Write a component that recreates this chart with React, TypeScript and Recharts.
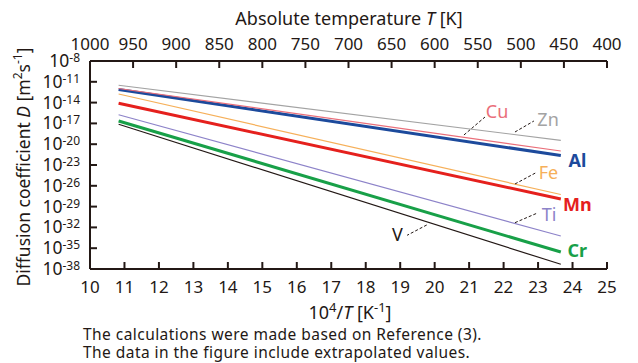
import React from "react";
import {
  LineChart,
  Line,
  XAxis,
  YAxis,
  ReferenceLine,
  ReferenceDot,
} from "recharts";

// 10^4/T at the two ends of every line
const invT = [10.83, 23.66];

// log10 of D [m2/s] at each end
const zn = [-11.5, -19.44];
const cu = [-11.97, -20.98];
const al = [-12.11, -21.63];
const fe = [-12.76, -27.26];
const mn = [-14.1, -27.9];
const ti = [-15.75, -33.24];
const cr = [-16.65, -35.55];
const v = [-17.13, -37.32];

const xTicks = [10, 11, 12, 13, 14, 15, 16, 17, 18, 19, 20, 21, 22, 23, 24, 25];
const yTicks = [-8, -11, -14, -17, -20, -23, -26, -29, -32, -35, -38];
const tempTicks = [1000, 950, 900, 850, 800, 750, 700, 650, 600, 550, 500, 450, 400];

// element labels (x = 10^4/T, y = log10 D)
const labelNames = ["Cu", "Zn", "Al", "Fe", "Mn", "Ti", "Cr", "V"];
const labelX = [21.81, 23.29, 24.14, 23.3, 24.14, 23.32, 24.14, 18.92];
const labelY = [-15.28, -16.51, -22.42, -24.15, -28.73, -30.17, -35.4, -33.1];

// dashed leaders from label to line
const leaderX1 = [20.85, 22.33, 22.33, 22.33, 19.77];
const leaderY1 = [-18.67, -18.24, -25.74, -31.32, -31.65];
const leaderX2 = [21.46, 22.88, 22.94, 22.96, 19.2];
const leaderY2 = [-16.08, -16.65, -24.11, -29.97, -33.14];

const data = invT.map((x, i) => ({
  x,
  T: 1e4 / x,
  Zn: zn[i],
  Cu: cu[i],
  Al: al[i],
  Fe: fe[i],
  Mn: mn[i],
  Ti: ti[i],
  Cr: cr[i],
  V: v[i],
}));

const INK = "#231815";
const FONT = "'Noto Sans', 'DejaVu Sans', sans-serif";

const series = [
  { key: "Zn", color: "#a3a3a3", width: 1.2, bold: false },
  { key: "Fe", color: "#f6b05a", width: 1.2, bold: false },
  { key: "Ti", color: "#8d83c9", width: 1.2, bold: false },
  { key: "V", color: INK, width: 1.2, bold: false },
  { key: "Al", color: "#1c4a9c", width: 3, bold: true },
  { key: "Cu", color: "#ea6f7a", width: 1.2, bold: false },
  { key: "Mn", color: "#e5201d", width: 3, bold: true },
  { key: "Cr", color: "#18a048", width: 3, bold: true },
];

const colorOf = (name: string) => series.find((s) => s.key === name)!;

const BottomTick = ({ x, y, payload }: any) => (
  <text x={x} y={y + 15} textAnchor="middle" fill={INK} fontSize={17} fontFamily={FONT}>
    {payload.value}
  </text>
);

const TopTick = ({ x, y, payload }: any) => (
  <text x={x} y={y} textAnchor="middle" fill={INK} fontSize={17} fontFamily={FONT}>
    {payload.value}
  </text>
);

const LeftTick = ({ x, y, payload }: any) => (
  <text x={x} y={y + 6} textAnchor="end" fill={INK} fontSize={17.5} fontFamily={FONT}>
    10
    <tspan fontSize={12} dy={-5}>
      {payload.value}
    </tspan>
  </text>
);

const text: React.CSSProperties = {
  position: "absolute",
  color: INK,
  fontFamily: FONT,
  whiteSpace: "nowrap",
  lineHeight: 1,
};

export default function App() {
  return (
    <div
      style={{
        position: "absolute",
        left: 0,
        top: 0,
        width: 638,
        height: 363,
        background: "#fff",
      }}
    >
      <LineChart
        width={638}
        height={363}
        data={data}
        margin={{ top: 0, right: 31, bottom: 0, left: 0 }}
      >
        <XAxis
          xAxisId="bottom"
          dataKey="x"
          type="number"
          domain={[10, 25]}
          ticks={xTicks}
          height={94}
          stroke={INK}
          strokeWidth={2}
          tickSize={-7}
          tickMargin={16}
          tick={<BottomTick />}
          interval={0}
        />
        <XAxis
          xAxisId="top"
          dataKey="T"
          orientation="top"
          type="number"
          domain={[400, 1000]}
          reversed
          allowDataOverflow
          ticks={tempTicks}
          height={61}
          stroke={INK}
          strokeWidth={2}
          tickSize={-7}
          tickMargin={18}
          tick={<TopTick />}
          interval={0}
        />
        <YAxis
          yAxisId="left"
          type="number"
          domain={[-38, -8]}
          ticks={yTicks}
          width={90}
          stroke={INK}
          strokeWidth={2}
          tickSize={-7}
          tickMargin={17}
          tick={<LeftTick />}
          interval={0}
        />
        <YAxis
          yAxisId="right"
          orientation="right"
          type="number"
          domain={[-38, -8]}
          allowDataOverflow
          width={0}
          stroke={INK}
          strokeWidth={2}
          tick={false}
          tickLine={false}
        />
        {/* invisible series so the top and right axes get drawn */}
        <Line
          xAxisId="top"
          yAxisId="right"
          dataKey="Zn"
          stroke="none"
          dot={false}
          activeDot={false}
          legendType="none"
          isAnimationActive={false}
        />
        {series.map((s) => (
          <Line
            key={s.key}
            xAxisId="bottom"
            yAxisId="left"
            type="linear"
            dataKey={s.key}
            stroke={s.color}
            strokeWidth={s.width}
            dot={false}
            activeDot={false}
            isAnimationActive={false}
          />
        ))}
        {leaderX1.map((x1, i) => (
          <ReferenceLine
            key={"lead" + i}
            xAxisId="bottom"
            yAxisId="left"
            segment={[
              { x: x1, y: leaderY1[i] },
              { x: leaderX2[i], y: leaderY2[i] },
            ]}
            stroke={INK}
            strokeWidth={1}
            strokeDasharray="3 2"
          />
        ))}
        {labelNames.map((name, i) => {
          const s = colorOf(name);
          return (
            <ReferenceDot
              key={name}
              xAxisId="bottom"
              yAxisId="left"
              x={labelX[i]}
              y={labelY[i]}
              r={1}
              fill="none"
              stroke="none"
              label={{
                value: name,
                position: "center",
                fill: s.color,
                fontSize: 18,
                fontWeight: s.bold ? 700 : 400,
                fontFamily: FONT,
              }}
            />
          );
        })}
      </LineChart>

      <svg
        width={638}
        height={363}
        style={{ position: "absolute", left: 0, top: 0, pointerEvents: "none" }}
      >
        <text
          x={23}
          y={167}
          transform="rotate(-90 23 167)"
          textAnchor="middle"
          dominantBaseline="central"
          fill={INK}
          fontSize={17.5}
          fontFamily={FONT}
        >
          Diffusion coefficient <tspan fontStyle="italic">D</tspan> [m
          <tspan fontSize={12} dy={-6}>2</tspan>
          <tspan dy={6}>s</tspan>
          <tspan fontSize={12} dy={-6}>-1</tspan>
          <tspan dy={6}>]</tspan>
        </text>
      </svg>

      <div style={{ ...text, left: 0, width: 698, top: 9, fontSize: 18, textAlign: "center" }}>
        Absolute temperature <i>T</i> [K]
      </div>
      <div style={{ ...text, left: 0, width: 700, top: 301, fontSize: 18, textAlign: "center" }}>
        10<sup style={{ fontSize: 13 }}>4</sup>/<i>T</i> [K<sup style={{ fontSize: 13 }}>-1</sup>]
      </div>
      <div style={{ ...text, left: 83, top: 327, fontSize: 15.5, letterSpacing: 0.45 }}>
        The calculations were made based on Reference (3).
      </div>
      <div style={{ ...text, left: 83, top: 345, fontSize: 15.5, letterSpacing: 0.45 }}>
        The data in the figure include extrapolated values.
      </div>
    </div>
  );
}
